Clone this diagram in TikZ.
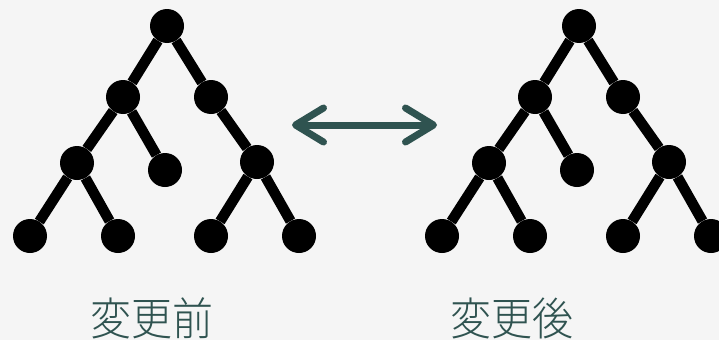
\documentclass[tikz,border=0pt]{standalone}
\usepackage{fontspec}
\newfontfamily\jpfont{Noto Sans CJK JP Light}
\usetikzlibrary{arrows.meta}
\definecolor{paper}{HTML}{F5F5F5}
\definecolor{darkteal}{HTML}{2F5350}

\begin{document}
\begin{tikzpicture}[x=1pt,y=-1pt,
    dot/.style={circle,fill=black,inner sep=0pt,minimum size=34pt},
    edge/.style={line width=10.5pt},
    label/.style={text=darkteal,font=\jpfont\fontsize{41}{41}\selectfont,
                  yscale=1.1,transform shape}]
  \useasboundingbox (0,0) rectangle (719,340);
  \fill[paper] (0,0) rectangle (719,340);
  % the same tree twice, once on each side
  \foreach \t/\dx in {a/0,b/412}{
    \begin{scope}[xshift=\dx pt]
      \foreach \n/\x/\y in {r/167/26,l/123/97,q/211/97,ll/77/163,lr/165/170,
                            qr/257/162,lla/30/236,llb/118/236,qra/211/236,qrb/299/236}
        \node[dot] (\t\n) at (\x,\y) {};
      \foreach \p/\c in {r/l,r/q,l/ll,l/lr,q/qr,ll/lla,ll/llb,qr/qra,qr/qrb}
        \draw[edge] (\t\p) -- (\t\c);
    \end{scope}}
  \coordinate (from) at (292,125);
  \coordinate (to) at (437,125);
  \draw[darkteal,line width=7pt,{Straight Barb[length=28pt,width=34pt,round]}-{Straight Barb[length=28pt,width=34pt,round]}] (from) -- (to);
  \node[label] (before) at (152,318) {変更前};
  \node[label] (after) at (512,318) {変更後};
\end{tikzpicture}
\end{document}
